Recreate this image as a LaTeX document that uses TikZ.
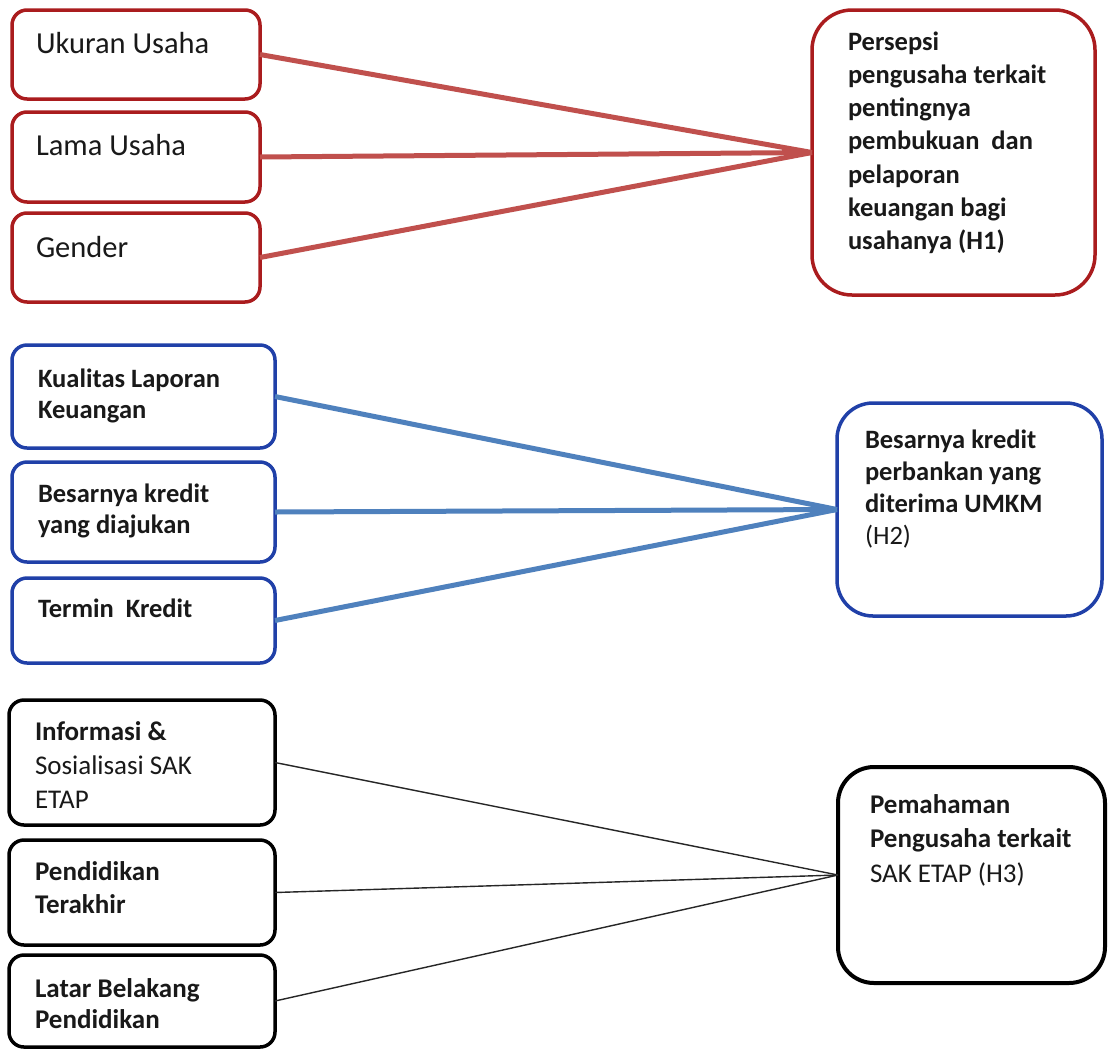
\documentclass[tikz,border=0pt]{standalone}
\usepackage{fontspec}
\setmainfont{Carlito}
\definecolor{redB}{RGB}{170,28,30}
\definecolor{redL}{RGB}{192,80,77}
\definecolor{blueB}{RGB}{32,64,168}
\definecolor{blueL}{RGB}{79,129,189}
\tikzset{
  boxbase/.style={line width=3.5pt, inner sep=0pt, outer sep=0pt, fill=white},
  redsmall/.style={boxbase, draw=redB, rounded corners=15pt},
  redbig/.style={boxbase, draw=redB, rounded corners=40pt},
  bluesmall/.style={boxbase, draw=blueB, rounded corners=15pt},
  bluebig/.style={boxbase, draw=blueB, rounded corners=36pt},
  blksmall/.style={boxbase, draw=black, rounded corners=15pt},
  blkbig/.style={boxbase, draw=black, line width=4pt, rounded corners=36pt},
  redcon/.style={draw=redL, line width=5pt},
  bluecon/.style={draw=blueL, line width=5pt},
  blkcon/.style={draw=black!85, line width=1.4pt},
  txt/.style={inner sep=0pt, outer sep=0pt, anchor=base west, text=black!90}
}
\newcommand{\mltext}[3]{\parbox[t]{300pt}{\fontsize{#1}{#2}\selectfont #3}}
\begin{document}
\begin{tikzpicture}[x=1pt,y=-1pt]
\useasboundingbox[fill=white] (0,0) rectangle (1115,1050);

% ---- red group ----
\node[redsmall, minimum width=248pt, minimum height=89pt] (r1) at (136,54.5) {};
\node[redsmall, minimum width=248pt, minimum height=90pt] (r2) at (136,157) {};
\node[redsmall, minimum width=248pt, minimum height=89pt] (r3) at (136,257.5) {};
\node[redbig, minimum width=283pt, minimum height=285pt] (rh) at (953.5,152.5) {};
\draw[redcon] (r1.east) -- (rh.west);
\draw[redcon] (r2.east) -- (rh.west);
\draw[redcon] (r3.east) -- (rh.west);
\node[txt] (tr1) at (36,53) {\fontsize{30.5}{36}\selectfont Ukuran Usaha};
\node[txt] (tr2) at (36,155) {\fontsize{30.5}{36}\selectfont Lama Usaha};
\node[txt] (tr3) at (36,257) {\fontsize{30.5}{36}\selectfont Gender};
\node[txt] (trh) at (848,50) {\mltext{26.5}{33.3}{\bfseries Persepsi\\pengusaha terkait\\pentingnya\\pembukuan~ dan\\pelaporan\\keuangan bagi\\usahanya (H1)}};

% ---- blue group ----
\node[bluesmall, minimum width=263pt, minimum height=103pt] (b1) at (143.5,396.5) {};
\node[bluesmall, minimum width=263pt, minimum height=100pt] (b2) at (143.5,512) {};
\node[bluesmall, minimum width=263pt, minimum height=85pt] (b3) at (143.5,620.5) {};
\node[bluebig, minimum width=265pt, minimum height=213pt] (bh) at (969.5,509.5) {};
\draw[bluecon] (b1.east) -- (bh.west);
\draw[bluecon] (b2.east) -- (bh.west);
\draw[bluecon] (b3.east) -- (bh.west);
\node[txt] (tb1) at (38,387) {\mltext{26.5}{31.5}{\bfseries Kualitas Laporan\\Keuangan}};
\node[txt] (tb2) at (38,502) {\mltext{26.5}{31.5}{\bfseries Besarnya kredit\\yang diajukan}};
\node[txt] (tb3) at (38,617) {\mltext{26.5}{31.5}{\bfseries Termin~ Kredit}};
\node[txt] (tbh) at (865,448) {\mltext{26.5}{32}{\textbf{Besarnya kredit}\\\textbf{perbankan yang}\\\textbf{diterima UMKM}\\(H2)}};

% ---- black group ----
\node[blksmall, minimum width=266pt, minimum height=125pt] (k1) at (142,762.5) {};
\node[blksmall, minimum width=266pt, minimum height=105pt] (k2) at (142,892.5) {};
\node[blksmall, minimum width=266pt, minimum height=92pt] (k3) at (142,1001) {};
\node[blkbig, minimum width=267pt, minimum height=216pt] (kh) at (971.5,875) {};
\draw[blkcon] (k1.east) -- (kh.west);
\draw[blkcon] (k2.east) -- (kh.west);
\draw[blkcon] (k3.east) -- (kh.west);
\node[txt] (tk1) at (35,740) {\mltext{27}{34}{\textbf{Informasi \&}\\Sosialisasi SAK\\ETAP}};
\node[txt] (tk2) at (35,880) {\mltext{27}{33}{\bfseries Pendidikan\\Terakhir}};
\node[txt] (tk3) at (35,997) {\mltext{27}{31.5}{\bfseries Latar Belakang\\Pendidikan}};
\node[txt] (tkh) at (870,813) {\mltext{27}{34.5}{\textbf{Pemahaman}\\\textbf{Pengusaha terkait}\\SAK ETAP (H3)}};
\end{tikzpicture}
\end{document}
